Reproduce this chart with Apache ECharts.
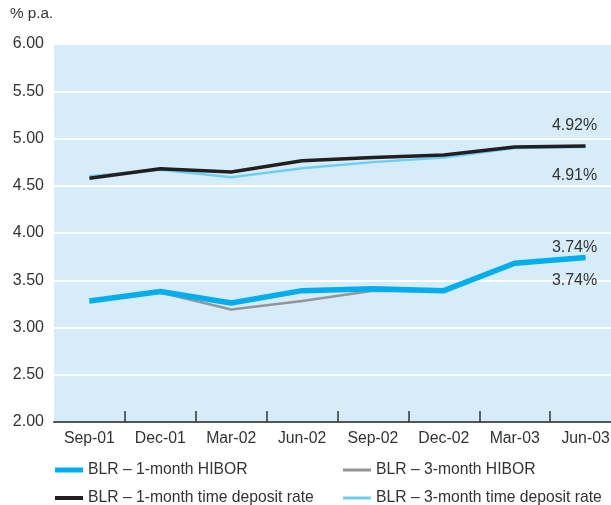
<!DOCTYPE html>
<html><head><meta charset="utf-8">
<script src="https://cdn.jsdelivr.net/npm/echarts@6/dist/echarts.min.js"></script>
<style>html,body{margin:0;padding:0;background:#fff;overflow:hidden;width:611px;height:505px}#c{width:621px;height:505px}</style>
</head><body><div id="c"></div>
<script>
var categories = ['Sep-01','Dec-01','Mar-02','Jun-02','Sep-02','Dec-02','Mar-03','Jun-03'];
var hibor1m = [3.28, 3.38, 3.26, 3.39, 3.41, 3.39, 3.68, 3.74];
var hibor3m = [3.27, 3.37, 3.19, 3.28, 3.39, 3.38, 3.68, 3.74];
var tdr1m = [4.58, 4.68, 4.645, 4.765, 4.80, 4.825, 4.91, 4.92];
var tdr3m = [4.60, 4.67, 4.59, 4.685, 4.75, 4.80, 4.90, 4.91];
var yTicks = ['2.00','2.50','3.00','3.50','4.00','4.50','5.00','5.50','6.00'];
var names = ['BLR \u2013 1-month HIBOR','BLR \u2013 3-month HIBOR','BLR \u2013 1-month time deposit rate','BLR \u2013 3-month time deposit rate'];
var endLabels = ['3.74%','3.74%','4.92%','4.91%'];

var FONT = '"Liberation Sans", Arial, sans-serif';
function withEndLabel(arr, text, pos, offset) {
  return arr.map(function (v, i) {
    if (i !== arr.length - 1) return v;
    return { value: v, label: { show: true, formatter: text, position: pos, offset: offset,
      color: '#333', fontSize: 16, fontFamily: FONT } };
  });
}
var chart = echarts.init(document.getElementById('c'), null, {renderer: 'canvas'});
function leg(name, left, top, h, color) {
  return { data: [name], left: left, top: top, itemWidth: 28, itemHeight: h, icon: 'rect',
    itemStyle: { color: color }, textStyle: { fontSize: 15.7, color: '#333', fontFamily: FONT }, padding: 0 };
}
var lineBase = { type: 'line', symbol: 'circle', symbolSize: 0, showSymbol: true };
function ser(o) { return Object.assign({}, lineBase, o); }
var option = {
  animation: false,
  title: { text: '% p.a.', left: 10, top: 6, padding: 0,
    textStyle: { fontSize: 15.3, fontWeight: 'normal', color: '#333', fontFamily: FONT } },
  grid: { left: 54, top: 44, bottom: 83, right: 0, show: true, backgroundColor: '#d6edf9', borderWidth: 0 },
  legend: [
    leg(names[0], 55, 462, 5, '#00aeef'),
    leg(names[1], 343, 462, 3, '#939598'),
    leg(names[2], 55, 490, 4, '#231f20'),
    leg(names[3], 343, 490, 3, '#6dcff6')
  ],
  xAxis: {
    type: 'category', data: categories, boundaryGap: true,
    axisLine: { lineStyle: { color: '#555', width: 2 } },
    axisTick: { show: true, inside: true, length: 11, interval: function (i) { return i !== 0; },
      lineStyle: { color: '#333', width: 1.5 } },
    axisLabel: { color: '#333', fontSize: 15.8, fontFamily: FONT, margin: 9 },
    splitLine: { show: false }
  },
  yAxis: {
    type: 'value', min: 2, max: 6, interval: 0.5,
    axisLine: { show: false }, axisTick: { show: false },
    axisLabel: { color: '#333', fontSize: 16, fontFamily: FONT, margin: 10,
      formatter: function (v) { return yTicks[Math.round((v - 2) / 0.5)]; } },
    splitLine: { lineStyle: { color: '#fff', width: 2 } }
  },
  series: [
    ser({ name: names[1], data: hibor3m, z: 2,
      lineStyle: { color: '#939598', width: 2.5 }, itemStyle: { color: '#939598' } }),
    ser({ name: names[0], data: withEndLabel(hibor1m, endLabels[0], 'top', [-11, 3.5]), z: 3,
      lineStyle: { color: '#00aeef', width: 5.5 }, itemStyle: { color: '#00aeef' } }),
    ser({ name: names[3], data: withEndLabel(tdr3m, endLabels[3], 'bottom', [-11, 15.5]), z: 2,
      lineStyle: { color: '#6dcff6', width: 2.5 }, itemStyle: { color: '#6dcff6' } }),
    ser({ name: names[2], data: withEndLabel(tdr1m, endLabels[2], 'top', [-11, -7.5]), z: 3,
      lineStyle: { color: '#231f20', width: 3.5 }, itemStyle: { color: '#231f20' } }),
    ser({ name: '_hiborlow', data: withEndLabel(hibor3m.map(function(){return null;}).slice(0,7).concat([hibor3m[7]]), endLabels[1], 'bottom', [-11, 10.5]),
      silent: true, lineStyle: { opacity: 0 }, z: 1 })
  ]
};
chart.setOption(option);
</script></body></html>
